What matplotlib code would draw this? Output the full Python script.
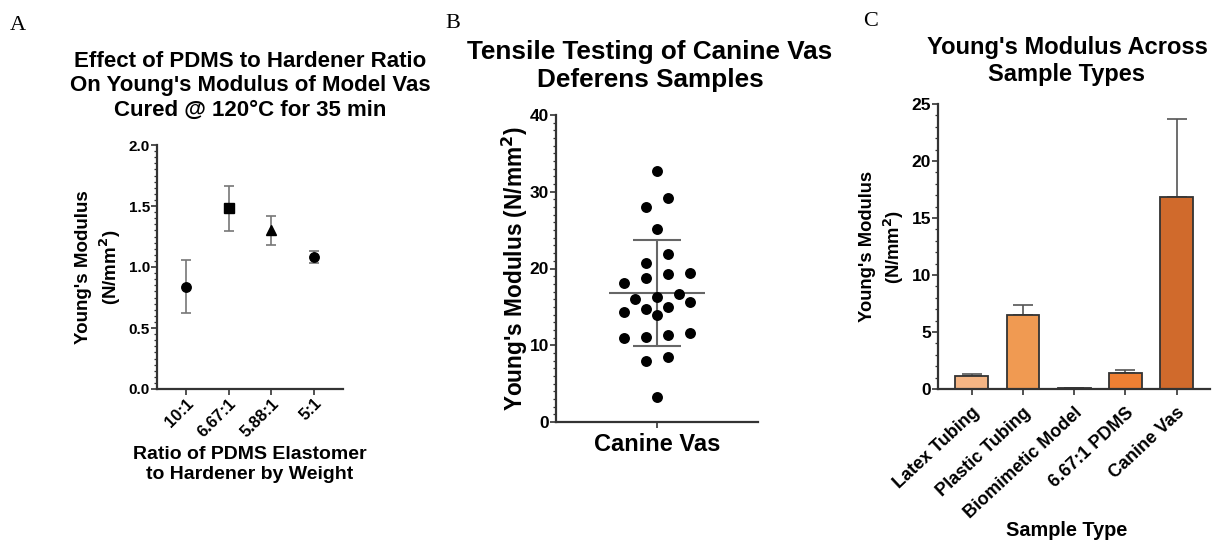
import numpy as np
import matplotlib
matplotlib.use('Agg')
import matplotlib.pyplot as plt
from matplotlib.ticker import MultipleLocator

plt.rcParams['font.family'] = ['Liberation Sans', 'DejaVu Sans']
plt.rcParams['font.weight'] = 'bold'

# Panel A data
ratios = ['10:1', '6.67:1', '5.88:1', '5:1']
ratio_mean = [0.84, 1.48, 1.30, 1.08]
ratio_sd = [0.215, 0.185, 0.12, 0.05]
ratio_markers = ['o', 's', '^', 'o']

# Panel B data (individual canine vas samples, N/mm^2)
canine_vals = [32.7, 29.2, 28.0, 25.2, 21.9, 20.7, 18.8, 19.4, 19.3, 18.1,
               16.0, 15.7, 16.3, 16.7, 14.3, 13.9, 14.7, 15.0,
               11.6, 11.1, 11.0, 11.3, 8.5, 8.0, 3.2]
canine_mean = 16.8
canine_sd = 6.9

# Panel C data
sample_types = ['Latex Tubing', 'Plastic Tubing', 'Biomimetic Model', '6.67:1 PDMS', 'Canine Vas']
sample_mean = [1.1, 6.46, 0.1, 1.43, 16.8]
sample_sd = [0.2, 0.87, 0.0, 0.22, 6.9]
sample_colors = ['#F5B584', '#F09A52', '#F0A060', '#EE7F33', '#D06A2C']

W, H = 1212, 541
fig = plt.figure(figsize=(W / 100, H / 100), dpi=100)


def box(l, t, r, b):
    return [l / W, 1 - b / H, (r - l) / W, (b - t) / H]


def style(ax):
    for s in ['top', 'right']:
        ax.spines[s].set_visible(False)
    for s in ['left', 'bottom']:
        ax.spines[s].set_linewidth(1.6)
        ax.spines[s].set_color('#333333')
    ax.tick_params(axis='both', which='major', length=4, width=1.2, color='#333333', pad=1)
    ax.tick_params(axis='y', which='minor', length=2, width=0.9, color='#333333')
    ax.tick_params(axis='x', which='minor', length=0)


# ---- A ----
axA = fig.add_axes(box(157, 145, 343, 389))
x = np.arange(len(ratios))
for i in range(len(ratios)):
    axA.errorbar(x[i], ratio_mean[i], yerr=ratio_sd[i], fmt='none', ecolor='#777777',
                 elinewidth=1.2, capsize=3.8, capthick=1.2, zorder=2)
    axA.plot(x[i], ratio_mean[i], marker=ratio_markers[i], color='black',
             markersize=6.8, linestyle='none', zorder=3)
axA.set_xlim(-0.68, 3.68)
axA.set_ylim(0, 2.0)
axA.yaxis.set_minor_locator(MultipleLocator(0.05))
axA.set_yticks([0, 0.5, 1.0, 1.5, 2.0])
axA.set_yticklabels(['0.0', '0.5', '1.0', '1.5', '2.0'], fontsize=11, fontweight='bold')
axA.set_xticks(x)
axA.set_xticklabels(ratios, rotation=45, ha='right', rotation_mode='anchor', fontsize=12,
                    fontweight='bold')
style(axA)
axA.set_ylabel("Young's Modulus\n(N/mm$^\\mathbf{2}$)", fontsize=13.5, fontweight='bold',
               linespacing=1.3, labelpad=4)
axA.set_xlabel('Ratio of PDMS Elastomer\nto Hardener by Weight', fontsize=14,
               fontweight='bold', linespacing=1.3, labelpad=4)
fig.text(250 / W, 1 - 86 / H,
         "Effect of PDMS to Hardener Ratio\nOn Young's Modulus of Model Vas\nCured @ 120\u00b0C for 35 min",
         ha='center', va='center', fontsize=16, fontweight='bold', linespacing=1.22)
fig.text(10 / W, 1 - 25 / H, 'A', fontsize=16, family='Liberation Serif', fontweight='normal',
         va='center')

# ---- B ----
axB = fig.add_axes(box(556, 115, 758, 422))
axB.set_xlim(-1, 1)
axB.set_ylim(0, 40)

# bin the values (2 units) and spread each bin sideways like a column scatter
ppx = 202 / 2.0   # px per x-unit
diam = 22.0       # horizontal slot width in px
bins = np.floor(np.array(canine_vals) / 2.0)
xs = np.zeros(len(canine_vals))
for b in np.unique(bins):
    idx = [i for i in np.argsort(canine_vals) if bins[i] == b]
    n = len(idx)
    offs = (np.arange(n) - (n - 1) / 2.0) * diam
    for j, i in enumerate(idx):
        xs[i] = offs[j] / ppx

axB.scatter(xs, canine_vals, s=62, color='black', zorder=3, linewidths=0)
axB.hlines(canine_mean, -0.48, 0.48, color='#666666', lw=1.5, zorder=2)
axB.errorbar(0, canine_mean, yerr=canine_sd, fmt='none', ecolor='#666666', elinewidth=1.5,
             capsize=17, capthick=1.5, zorder=2)
axB.yaxis.set_major_locator(MultipleLocator(10))
axB.yaxis.set_minor_locator(MultipleLocator(1))
axB.set_xticks([0])
axB.set_xticklabels(['Canine Vas'], fontsize=17, fontweight='bold')
for t in axB.get_yticklabels():
    t.set_fontsize(12.5)
    t.set_fontweight('bold')
style(axB)
axB.tick_params(axis='x', which='major', pad=4)
axB.set_ylabel("Young's Modulus (N/mm$^\\mathbf{2}$)", fontsize=16.3, fontweight='bold', labelpad=0)
fig.text(650 / W, 1 - 66 / H, 'Tensile Testing of Canine Vas\nDeferens Samples', ha='center',
         va='center', fontsize=18.8, fontweight='bold', linespacing=1.2)
fig.text(445 / W, 1 - 23 / H, 'B', fontsize=16, family='Liberation Serif', fontweight='normal',
         va='center')

# ---- C ----
axC = fig.add_axes(box(938, 104, 1210, 389))
xc = np.arange(len(sample_types))
axC.bar(xc, sample_mean, width=0.64, color=sample_colors, edgecolor='#333333', linewidth=1.3,
        zorder=2)
axC.errorbar(xc, sample_mean, yerr=[np.zeros(len(sample_sd)), sample_sd], fmt='none',
             ecolor='#555555', elinewidth=1.2, capsize=7, capthick=1.2, zorder=1)
axC.set_xlim(-0.66, 4.65)
axC.set_ylim(0, 25)
axC.yaxis.set_major_locator(MultipleLocator(5))
axC.yaxis.set_minor_locator(MultipleLocator(1))
axC.set_xticks(xc)
axC.set_xticklabels(sample_types, rotation=43, ha='right', rotation_mode='anchor',
                    fontsize=13, fontweight='bold')
for t in axC.get_yticklabels():
    t.set_fontsize(12.5)
    t.set_fontweight('bold')
style(axC)
axC.tick_params(axis='x', which='major', pad=7)
axC.set_ylabel("Young's Modulus\n(N/mm$^\\mathbf{2}$)", fontsize=13.2, fontweight='bold',
               linespacing=1.3, labelpad=4)
fig.text(1067 / W, 1 - 531 / H, 'Sample Type', ha='center', va='center', fontsize=14.3,
         fontweight='bold')
fig.text(1067 / W, 1 - 61 / H, "Young's Modulus Across\nSample Types", ha='center',
         va='center', fontsize=17, fontweight='bold', linespacing=1.23)
fig.text(863 / W, 1 - 21 / H, 'C', fontsize=16, family='Liberation Serif', fontweight='normal',
         va='center')

fig.savefig('out.png', dpi=100, facecolor='white')
